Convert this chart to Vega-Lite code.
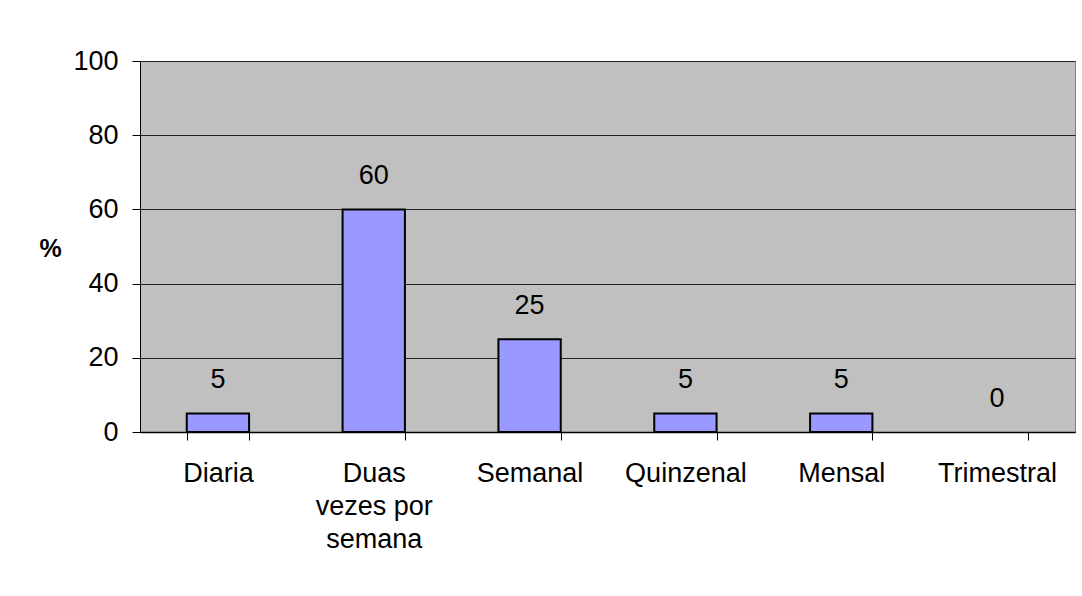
{
  "$schema": "https://vega.github.io/schema/vega-lite/v6.json",
  "width": 935,
  "height": 371,
  "autosize": "none",
  "padding": {"left": 140, "top": 61, "right": 7, "bottom": 164},
  "background": "white",
  "config": {
    "font": "Liberation Sans",
    "view": {"fill": "#C0C0C0", "stroke": "#808080", "strokeWidth": 1}
  },
  "data": {
    "values": [
      {"categoria": "Diaria", "pct": 5},
      {"categoria": "Duas vezes por semana", "pct": 60},
      {"categoria": "Semanal", "pct": 25},
      {"categoria": "Quinzenal", "pct": 5},
      {"categoria": "Mensal", "pct": 5},
      {"categoria": "Trimestral", "pct": 0}
    ]
  },
  "encoding": {
    "x": {
      "field": "categoria",
      "type": "nominal",
      "sort": null,
      "scale": {"paddingInner": 0.6, "paddingOuter": 0.3},
      "axis": {
        "title": null,
        "labelAngle": 0,
        "labelFontSize": 27,
        "labelColor": "black",
        "labelPadding": 20,
        "labelLineHeight": 33,
        "labelBaseline": "top",
        "labelExpr": "datum.value == 'Duas vezes por semana' ? ['Duas', 'vezes por', 'semana'] : datum.value",
        "tickBand": "extent",
        "tickSize": 8,
        "tickColor": "black",
        "domainColor": "black",
        "domainWidth": 1.5,
        "grid": false
      }
    },
    "y": {
      "field": "pct",
      "type": "quantitative",
      "scale": {"domain": [0, 100]},
      "axis": {
        "title": "%",
        "titleAngle": 0,
        "titleFontSize": 25,
        "titleFontWeight": "bold",
        "titleX": -90,
        "titleY": 187,
        "titleAlign": "center",
        "titleBaseline": "middle",
        "titleColor": "black",
        "values": [0, 20, 40, 60, 80, 100],
        "labelFontSize": 27,
        "labelColor": "black",
        "labelPadding": 14,
        "tickSize": 8,
        "tickColor": "black",
        "domainColor": "black",
        "gridColor": "#222222",
        "gridWidth": 1,
        "gridOpacity": 1
      }
    }
  },
  "layer": [
    {
      "transform": [{"filter": "datum.pct > 0"}],
      "mark": {"type": "bar", "fill": "#9999FF", "stroke": "black", "strokeWidth": 2}
    },
    {
      "mark": {"type": "text", "fontSize": 27, "baseline": "bottom", "dy": -19, "color": "black"},
      "encoding": {"text": {"field": "pct", "type": "quantitative"}}
    }
  ]
}
